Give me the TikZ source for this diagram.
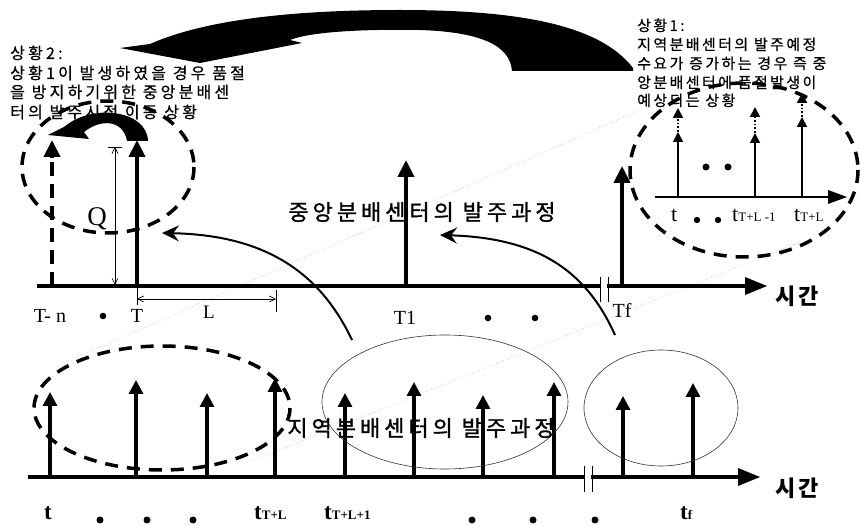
\documentclass[tikz,border=0pt]{standalone}
\usepackage{fontspec}
\setmainfont{Liberation Serif}
\newfontfamily\krL[LetterSpace=20,FakeBold=0.6]{Noto Sans CJK KR}
\newfontfamily\krR[LetterSpace=16,FakeBold=0.6]{Noto Sans CJK KR}
\newfontfamily\krB[LetterSpace=18,FakeBold=1.2]{Noto Sans CJK KR}
\newfontfamily\krC[LetterSpace=10]{Noto Sans CJK KR}
\usetikzlibrary{arrows.meta}
\newcommand\mysub[1]{{\fontsize{13}{13}\selectfont #1}}
\begin{document}
\begin{tikzpicture}[x=1pt,y=-1pt,
  axisline/.style={line width=4.5pt},
  axishead/.style={fill=black},
  stemarrow/.style={line width=4pt,-{Triangle[length=17pt,width=16pt]}},
  lowarrow/.style={line width=3.2pt,-{Triangle[length=14pt,width=14pt]}},
  insetarrow/.style={line width=1.8pt,-{Triangle[length=10pt,width=10pt]}},
  insetdot/.style={line width=1.8pt,dotted,-{Triangle[length=10pt,width=10pt]}},
  dashring/.style={line width=3.5pt,dash pattern=on 13pt off 9pt},
  thinring/.style={line width=0.6pt,black!80},
  dimline/.style={line width=0.6pt},
  dimarrows/.style={dimline,{Straight Barb[length=6pt,width=6pt]}-{Straight Barb[length=6pt,width=6pt]}},
  curvearrow/.style={line width=2pt,-{Stealth[length=17pt,width=16pt,inset=6pt]}},
  faint/.style={gray!55,dotted,line width=0.6pt},
  krleft/.style={font=\krL\fontsize{16}{16}\selectfont,inner sep=0pt,anchor=base west},
  krright/.style={font=\krR\fontsize{15}{15}\selectfont,inner sep=0pt,anchor=base west},
  krbig/.style={font=\krB\fontsize{22}{22}\selectfont,inner sep=0pt},
  krtime/.style={font=\krC\bfseries\fontsize{22}{22}\selectfont,inner sep=0pt},
  lab/.style={inner sep=0pt,anchor=base,font=\fontsize{20}{20}\selectfont},
  lowlab/.style={inner sep=0pt,anchor=base west,font=\fontsize{22}{22}\selectfont},
  boldlab/.style={inner sep=0pt,anchor=base west,font=\bfseries\fontsize{23}{23}\selectfont},
  dotmark/.style={fill=black}
]
\path[use as bounding box,fill=white] (0,0) rectangle (860,526);

% faint dotted diagonal lines
\coordinate (fa1) at (78,357); \coordinate (fa2) at (640,110);
\coordinate (fb1) at (250,462); \coordinate (fb2) at (800,242);
\draw[faint] (fa1) -- (fa2);
\draw[faint] (fb1) -- (fb2);

% ---------- big top crescent arrow ----------
\fill[black] (120,48) -- (150,44) .. controls (200,22) and (280,10) .. (400,10)
  .. controls (520,10) and (600,25) .. (633,68) -- (633,71) -- (512,71)
  .. controls (510,45) and (480,32) .. (420,30)
  .. controls (360,29) and (310,32) .. (290,40) -- (302,43) -- (200,63) -- cycle;

% ---------- upper axis ----------
\coordinate (ua0) at (37,286); \coordinate (ua1) at (747,286);
\draw[axisline] (ua0) -- (ua1);
\fill[axishead] (745,277) -- (767,286) -- (745,295) -- cycle;
\fill[white] (601,282) rectangle (607,291);
\coordinate (ub1) at (600,277); \coordinate (ub2) at (600,302);
\coordinate (ub3) at (608,277); \coordinate (ub4) at (608,302);
\draw[line width=1pt] (ub1) -- (ub2);
\draw[line width=1pt] (ub3) -- (ub4);
\node[krtime] (time1) at (797,296) {시간};

% upper stems
\coordinate (sd0) at (52,286); \coordinate (sd1) at (52,158); \coordinate (sd2) at (52,140);
\draw[line width=4pt,dash pattern=on 14pt off 8pt] (sd0) -- (sd1);
\draw[stemarrow] (sd1) -- (sd2);
\coordinate (sT0) at (137,288); \coordinate (sT1) at (137,140);
\draw[stemarrow] (sT0) -- (sT1);
\coordinate (s10) at (406,288); \coordinate (s11) at (406,160);
\draw[stemarrow] (s10) -- (s11);
\coordinate (sf0) at (622,288); \coordinate (sf1) at (622,166);
\draw[stemarrow] (sf0) -- (sf1);

% small crescent arrow (situation 2)
\fill[black] (148,141) .. controls (147,110) and (92,103) .. (64,127) -- (48,135)
  -- (89,139) -- (84,132) .. controls (100,119) and (123,119) .. (127,141) -- cycle;

% Q dimension
\coordinate (q0) at (115,147); \coordinate (q1) at (115,285);
\draw[dimarrows] (q0) -- (q1);
\coordinate (qt0) at (108,147); \coordinate (qt1) at (122,147);
\draw[dimline] (qt0) -- (qt1);
\node[inner sep=0pt,anchor=base,font=\fontsize{27}{27}\selectfont] (Q) at (97,226) {Q};

% L dimension
\coordinate (l0) at (137,299); \coordinate (l1) at (276,299);
\draw[dimarrows] (l0) -- (l1);
\coordinate (lt0) at (137,288); \coordinate (lt1) at (137,305);
\coordinate (lt2) at (276,290); \coordinate (lt3) at (276,312);
\draw[dimline] (lt0) -- (lt1);
\draw[dimline] (lt2) -- (lt3);
\node[lab,font=\fontsize{19}{19}\selectfont] (L) at (209,319) {L};

% upper labels
\node[lab] (Tn) at (50,323) {T- n};
\fill[dotmark] (103,316) circle (3.3);
\node[lab] (T) at (137,323) {T};
\node[lab] (T1) at (405,325) {T1};
\fill[dotmark] (488,318) circle (3.3);
\fill[dotmark] (535,318) circle (3.3);
\node[lab] (Tf) at (622,318) {Tf};

% upper left dashed ellipse
\draw[dashring] (108,167) ellipse [x radius=86, y radius=66];

% central text
\node[krbig] (central) at (422,212) {중앙분배센터의 발주과정};

% curved arrows
\coordinate (c1s) at (352,340); \coordinate (c1e) at (162,233);
\draw[curvearrow] (c1s) .. controls (318,268) and (260,235) .. (c1e);
\coordinate (c2s) at (615,335); \coordinate (c2e) at (440,235);
\draw[curvearrow] (c2s) .. controls (585,268) and (535,238) .. (c2e);

% ---------- inset (top right) ----------
\coordinate (ia0) at (655,197); \coordinate (ia1) at (830,197);
\draw[line width=2.5pt] (ia0) -- (ia1);
\fill[axishead] (828,190) -- (847,197) -- (828,204) -- cycle;
\coordinate (i10) at (678,197); \coordinate (i11) at (678,132); \coordinate (i12) at (678,108);
\draw[insetarrow] (i10) -- (i11);
\draw[insetdot] (i11) -- (i12);
\coordinate (i20) at (755,197); \coordinate (i21) at (755,133); \coordinate (i22) at (755,107);
\draw[insetarrow] (i20) -- (i21);
\draw[insetdot] (i21) -- (i22);
\coordinate (i30) at (802,197); \coordinate (i31) at (802,117); \coordinate (i32) at (802,93);
\draw[insetarrow] (i30) -- (i31);
\draw[insetdot] (i31) -- (i32);
\fill[dotmark] (706,167) circle (3.5);
\fill[dotmark] (728,167) circle (3.5);
\node[lowlab] (it) at (671,222) {t};
\fill[dotmark] (697,220) circle (3.2);
\fill[dotmark] (718,220) circle (3.2);
\node[lowlab] (itl1) at (732,222) {t\mysub{T+L -1}};
\node[lowlab] (itl) at (794,222) {t\mysub{T+L}};
\draw[dashring] (744,170) ellipse [x radius=114, y radius=87];

% situation texts
\node[krright] (s1a) at (637,31) {상황1:};
\node[krright] (s1b) at (637,50) {지역분배센터의 발주예정};
\node[krright] (s1c) at (637,69) {수요가 증가하는 경우 즉 중};
\node[krright] (s1d) at (637,88) {앙분배센터에 품절발생이};
\node[krright] (s1e) at (637,106) {예상되는 상황};

\node[krleft] (s2a) at (10,59) {상황2:};
\node[krleft] (s2b) at (10,79) {상황1이 발생하였을 경우 품절};
\node[krleft] (s2c) at (10,98) {을 방지하기위한 중앙분배센};
\node[krleft] (s2d) at (10,118) {터의 발주시점 이동 상황};

% ---------- lower axis ----------
\coordinate (la0) at (28,477); \coordinate (la1) at (740,477);
\draw[axisline] (la0) -- (la1);
\fill[axishead] (738,468) -- (760,477) -- (738,486) -- cycle;
\fill[white] (585,473) rectangle (591,482);
\coordinate (lb1) at (584,466); \coordinate (lb2) at (584,492);
\coordinate (lb3) at (592,466); \coordinate (lb4) at (592,492);
\draw[line width=1pt] (lb1) -- (lb2);
\draw[line width=1pt] (lb3) -- (lb4);
\node[krtime] (time2) at (797,488) {시간};

\foreach \x/\t [count=\i] in {50/392,136/380,207/393,275/378,345/393,414/382,483/395,554/382,623/396,693/383}{
  \coordinate (lo\i) at (\x,479);
  \coordinate (lp\i) at (\x,\t);
  \draw[lowarrow] (lo\i) -- (lp\i);
}

\draw[dashring] (162,408) ellipse [x radius=128, y radius=62];
\draw[thinring] (445,402) ellipse [x radius=123, y radius=67];
\draw[thinring] (661,408) ellipse [x radius=77, y radius=58];

\node[krbig] (regional) at (421,428) {지역분배센터의 발주과정};

% lower labels
\node[boldlab] (bt) at (44,520) {t};
\fill[dotmark] (100,520) circle (3.5);
\fill[dotmark] (147,520) circle (3.5);
\fill[dotmark] (193,520) circle (3.5);
\node[boldlab] (btl) at (254,520) {t\mysub{T+L}};
\node[boldlab] (btl1) at (324,520) {t\mysub{T+L+1}};
\fill[dotmark] (472,520) circle (3.5);
\fill[dotmark] (533,520) circle (3.5);
\fill[dotmark] (595,520) circle (3.5);
\node[boldlab] (btf) at (680,520) {t\mysub{f}};
\end{tikzpicture}
\end{document}
